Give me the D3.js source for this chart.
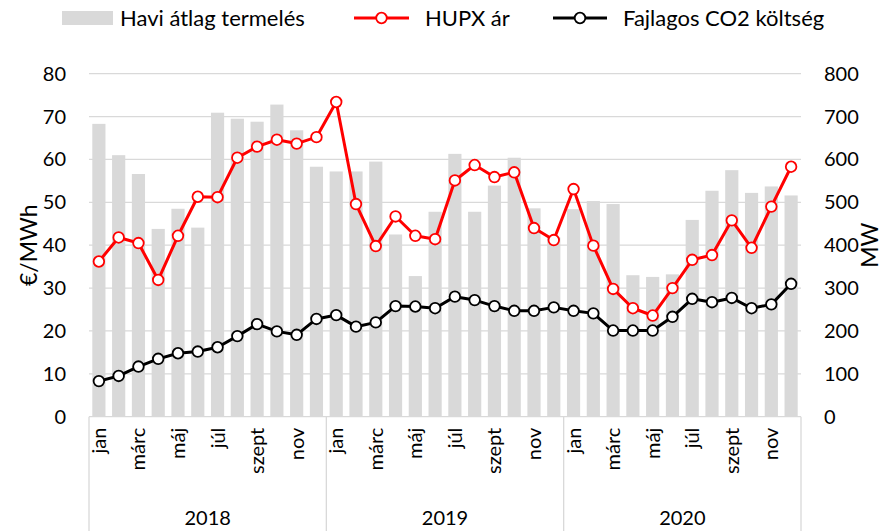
<!DOCTYPE html>
<html>
<head>
<meta charset="utf-8">
<script src="https://cdn.jsdelivr.net/npm/d3@7"></script>
<style>
	body { margin: 0; background: #fff; }
	text { font-family: Lato, "Open Sans", sans-serif; fill: #000; }
</style>
</head>
<body>
<div id="chart"></div>
<script>
var width = 889, height = 531;

// data
var years = ['2018', '2019', '2020'];
var monthNames = ['jan', 'febr', 'márc', 'ápr', 'máj', 'jún', 'júl', 'aug', 'szept', 'okt', 'nov', 'dec'];
var production = [683, 610, 566, 438, 485, 441, 709, 695, 688, 728, 668, 583,
	572, 572, 595, 425, 328, 478, 613, 478, 539, 604, 486, 418,
	484, 503, 496, 330, 326, 332, 459, 527, 575, 522, 537, 516];
var hupx = [36.2, 41.8, 40.5, 31.9, 42.2, 51.3, 51.2, 60.4, 63.0, 64.6, 63.7, 65.2,
	73.4, 49.6, 39.8, 46.7, 42.2, 41.4, 55.1, 58.7, 55.9, 57.0, 44.0, 41.2,
	53.1, 39.9, 29.8, 25.3, 23.6, 30.0, 36.6, 37.7, 45.8, 39.4, 49.0, 58.3];
var co2 = [8.3, 9.5, 11.7, 13.5, 14.8, 15.2, 16.2, 18.8, 21.6, 19.9, 19.1, 22.8,
	23.7, 21.0, 22.0, 25.8, 25.7, 25.3, 28.0, 27.2, 25.8, 24.7, 24.7, 25.5,
	24.7, 24.1, 20.1, 20.1, 20.1, 23.3, 27.5, 26.7, 27.7, 25.3, 26.2, 31.0];
var leftTicks = [0, 10, 20, 30, 40, 50, 60, 70, 80];
var rightTicks = [0, 100, 200, 300, 400, 500, 600, 700, 800];

var svg = d3.select('#chart').append('svg')
	.attr('width', width).attr('height', height);

var plotLeft = 89, plotRight = 801, plotTop = 73.7, plotBottom = 416.7;

var keys = d3.range(production.length);
var x = d3.scaleBand().domain(keys).range([plotLeft, plotRight])
	.paddingInner(1/3).paddingOuter(1/6);
var yL = d3.scaleLinear().domain([0, 80]).range([plotBottom, plotTop]);
var yR = d3.scaleLinear().domain([0, 800]).range([plotBottom, plotTop]);
var cx = function(i) { return x(i) + x.bandwidth() / 2; };

// grid
svg.append('g').selectAll('line')
	.data(leftTicks.slice(1))
	.enter().append('line')
	.attr('x1', plotLeft).attr('x2', plotRight)
	.attr('y1', function(d) { return yL(d); })
	.attr('y2', function(d) { return yL(d); })
	.style('stroke', '#d9d9d9').style('stroke-width', 1.3);

// bars
svg.append('g').selectAll('rect')
	.data(production)
	.enter().append('rect')
	.attr('x', function(d, i) { return x(i); })
	.attr('width', x.bandwidth())
	.attr('y', function(d) { return yR(d); })
	.attr('height', function(d) { return plotBottom - yR(d); })
	.style('fill', '#d9d9d9');

// x axis line + year separators
svg.append('line')
	.attr('x1', plotLeft).attr('x2', plotRight).attr('y1', plotBottom).attr('y2', plotBottom)
	.style('stroke', '#d9d9d9').style('stroke-width', 1.3);

var yearStep = (plotRight - plotLeft) / years.length;
svg.append('g').selectAll('line')
	.data(d3.range(years.length + 1))
	.enter().append('line')
	.attr('x1', function(d) { return plotLeft + d * yearStep; })
	.attr('x2', function(d) { return plotLeft + d * yearStep; })
	.attr('y1', plotBottom).attr('y2', 531)
	.style('stroke', '#d9d9d9').style('stroke-width', 1.3);

// month labels (every second one shown)
svg.append('g').selectAll('text')
	.data(keys.filter(function(i) { return i % 2 == 0; }))
	.enter().append('text')
	.attr('transform', function(i) { return 'translate(' + (cx(i) + 7) + ',' + (plotBottom + 11) + ') rotate(-90)'; })
	.attr('text-anchor', 'end')
	.style('font-size', '20px')
	.text(function(i) { return monthNames[i % 12]; });

// year labels
svg.append('g').selectAll('text')
	.data(years)
	.enter().append('text')
	.attr('x', function(d, i) { return plotLeft + (i + 0.5) * yearStep; })
	.attr('y', 525)
	.attr('text-anchor', 'middle')
	.style('font-size', '20px')
	.text(function(d) { return d; });

// left ticks
svg.append('g').selectAll('text')
	.data(leftTicks)
	.enter().append('text')
	.attr('x', 66)
	.attr('y', function(d) { return yL(d) + 7; })
	.attr('text-anchor', 'end')
	.style('font-size', '20px')
	.text(function(d) { return d; });

// right ticks
svg.append('g').selectAll('text')
	.data(rightTicks)
	.enter().append('text')
	.attr('x', 824)
	.attr('y', function(d) { return yR(d) + 7; })
	.style('font-size', '20px')
	.text(function(d) { return d; });

// axis titles
svg.append('text')
	.attr('transform', 'translate(37,' + ((plotTop + plotBottom) / 2) + ') rotate(-90)')
	.attr('text-anchor', 'middle')
	.style('font-size', '23px')
	.text('€/MWh');

svg.append('text')
	.attr('transform', 'translate(878,' + ((plotTop + plotBottom) / 2) + ') rotate(-90)')
	.attr('text-anchor', 'middle')
	.style('font-size', '23px')
	.text('MW');

// lines
function drawSeries(values, color) {
	var line = d3.line()
		.x(function(d, i) { return cx(i); })
		.y(function(d) { return yL(d); });
	svg.append('path')
		.datum(values)
		.attr('d', line)
		.style('fill', 'none')
		.style('stroke', color)
		.style('stroke-width', 3)
		.style('stroke-linejoin', 'round');
	svg.append('g').selectAll('circle')
		.data(values)
		.enter().append('circle')
		.attr('cx', function(d, i) { return cx(i); })
		.attr('cy', function(d) { return yL(d); })
		.attr('r', 5.3)
		.style('fill', '#fff')
		.style('stroke', color)
		.style('stroke-width', 1.8);
}
drawSeries(hupx, '#ff0000');
drawSeries(co2, '#000000');

// legend
var lg = svg.append('g');
lg.append('rect').attr('x', 62).attr('y', 11).attr('width', 51).attr('height', 14).style('fill', '#d9d9d9');
lg.append('text').attr('x', 120).attr('y', 26).style('font-size', '22px').text('Havi átlag termelés');

var legendLines = [
	{x1: 354, x2: 409, color: '#ff0000', tx: 425, label: 'HUPX ár'},
	{x1: 553, x2: 607, color: '#000000', tx: 623, label: 'Fajlagos CO2 költség'}
];
legendLines.forEach(function(l) {
	lg.append('line').attr('x1', l.x1).attr('x2', l.x2).attr('y1', 18).attr('y2', 18)
		.style('stroke', l.color).style('stroke-width', 3);
	lg.append('circle').attr('cx', (l.x1 + l.x2) / 2).attr('cy', 18).attr('r', 5.3)
		.style('fill', '#fff').style('stroke', l.color).style('stroke-width', 1.8);
	lg.append('text').attr('x', l.tx).attr('y', 26).style('font-size', '22px').text(l.label);
});
</script>
</body>
</html>
